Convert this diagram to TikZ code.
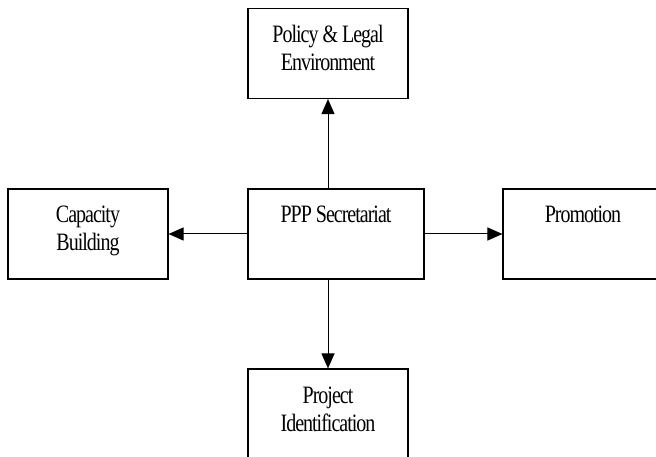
\documentclass[tikz,border=0pt]{standalone}
\usepackage{fontspec}
\setmainfont[FakeStretch=0.8,LetterSpace=-4]{Liberation Serif}
\usepackage{tikz}
\usetikzlibrary{arrows.meta}

% text of a block, hung from the top of the box
\newcommand{\blocklines}[2]{\parbox[c][90pt][t]{#1}{\centering\rule{0pt}{34pt}#2}}

\begin{document}
\begin{tikzpicture}[x=1pt,y=1pt]
     \tikzstyle{block}=[draw,rectangle,line width=1.1pt,inner sep=0pt,
                        font=\fontsize{25pt}{28pt}\selectfont]
     \tikzstyle{edge} = [draw,line width=1pt,black,-{Triangle[length=15pt,width=13pt]}]

     \useasboundingbox (0,0) rectangle (656,-457);
     \clip (0,0) rectangle (656,-457);

     \node[block] (ppp) at (336,-234) {\blocklines{176pt}{PPP Secretariat}};
     \node[block] (policy) at (328,-53.5) {\blocklines{160pt}{Policy \& Legal\\Environment}};
     \node[block] (capacity) at (88,-234) {\blocklines{160pt}{Capacity\\Building}};
     \node[block] (promotion) at (583,-234) {\blocklines{160pt}{Promotion}};
     \node[block] (project) at (328,-414) {\blocklines{160pt}{Project\\Identification}};

     \draw[edge] (ppp.north -| policy.south) -- (policy.south);
     \draw[edge] (ppp.west) -- (capacity.east);
     \draw[edge] (ppp.east) -- (promotion.west);
     \draw[edge] (ppp.south -| project.north) -- (project.north);
\end{tikzpicture}
\end{document}
